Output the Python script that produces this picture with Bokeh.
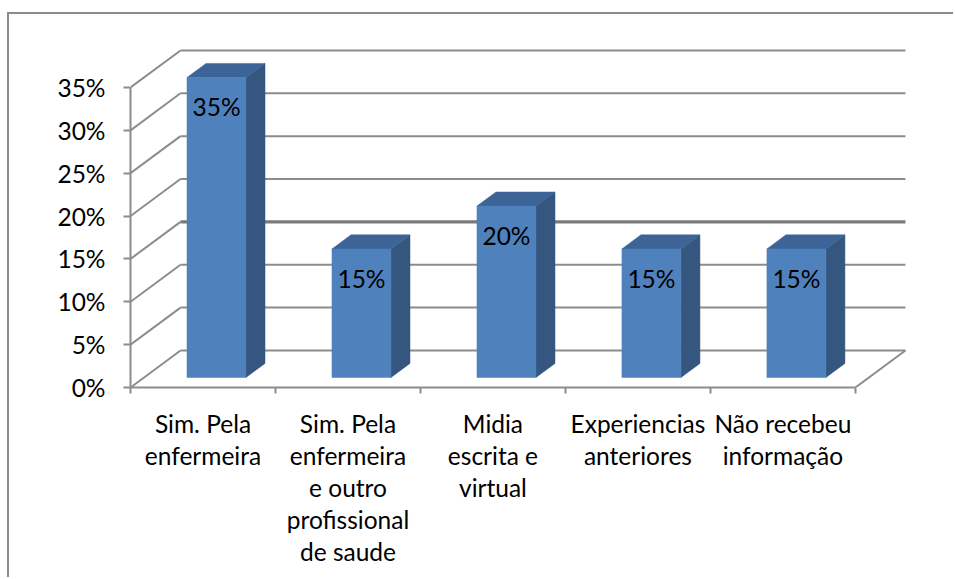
from bokeh.plotting import figure
from bokeh.models import Range1d, FixedTicker, LinearAxis
from bokeh.core.properties import value
from bokeh.embed import file_html
from bokeh.resources import INLINE

# ---- data ----
categories = [
    "Sim. Pela\nenfermeira",
    "Sim. Pela\nenfermeira\ne outro\nprofissional\nde saude",
    "Midia\nescrita e\nvirtual",
    "Experiencias\nanteriores",
    "Não recebeu\ninformação",
]
values = [35, 15, 20, 15, 15]
value_labels = ["35%", "15%", "20%", "15%", "15%"]
y_ticks = [0, 5, 10, 15, 20, 25, 30, 35]
y_tick_labels = ["0%", "5%", "10%", "15%", "20%", "25%", "30%", "35%"]

# ---- 3D geometry (data units) ----
DX = 0.345      # depth offset along x (category units)
DY = 4.32       # depth offset along y (percent units)
FRONT = 0.27    # bar front face position (fraction of depth)
DEPTH = 0.38    # bar depth (fraction of depth)
BW = 0.407      # bar width
FONT = "Lato"
FS = "24.5px"
GRID = "#8C8C8C"

n = len(categories)
centers = [i + 0.5 for i in range(n)]

p = figure(width=946, height=565,
           x_range=Range1d(0, 5.38), y_range=Range1d(0, 40.48),
           x_axis_type=None, y_axis_type=None,
           output_backend="svg", toolbar_location=None,
           min_border_left=121, min_border_right=45,
           min_border_top=26, min_border_bottom=192)
p.outline_line_color = None
p.background_fill_color = "white"
p.border_fill_color = "white"
p.styles = {"margin-left": "7px", "margin-top": "12px",
            "border-left": "2px solid #8C8C8C", "border-top": "2px solid #8C8C8C"}

# back wall gridlines
gx0 = [DX] * len(y_ticks)
gx1 = [n + DX] * len(y_ticks)
gy = [v + DY for v in y_ticks]
gw = [3.2 if v == 15 else 2 for v in y_ticks]
gc = ["#7A7A7A" if v == 15 else GRID for v in y_ticks]
p.segment(x0=gx0, y0=gy, x1=gx1, y1=gy, line_color=gc, line_width=gw)
# side wall diagonals
p.segment(x0=[0] * len(y_ticks), y0=y_ticks, x1=[DX] * len(y_ticks), y1=gy,
          line_color=GRID, line_width=2)
# floor right edge
p.segment(x0=[n], y0=[0], x1=[n + DX], y1=[DY], line_color=GRID, line_width=2)

# bars
fx, fy, sx, sy, tx, ty = [], [], [], [], [], []
for c, v in zip(centers, values):
    xl = c + FRONT * DX - BW / 2
    xr = xl + BW
    yb = FRONT * DY
    yt = v + FRONT * DY
    ddx, ddy = DEPTH * DX, DEPTH * DY
    fx.append([xl, xr, xr, xl]); fy.append([yb, yb, yt, yt])
    sx.append([xr, xr + ddx, xr + ddx, xr]); sy.append([yb, yb + ddy, yt + ddy, yt])
    tx.append([xl, xr, xr + ddx, xl + ddx]); ty.append([yt, yt, yt + ddy, yt + ddy])
p.patches(sx, sy, fill_color="#34567F", line_color="#34567F", line_width=0.5)
p.patches(tx, ty, fill_color="#3C6496", line_color="#3C6496", line_width=0.5)
p.patches(fx, fy, fill_color="#4F81BD", line_color="#4F81BD", line_width=0.5)

# value labels
lx = [c + FRONT * DX for c in centers]
ly = [v + FRONT * DY - 3.4 for v in values]
p.text(x=lx, y=ly, text=value_labels, text_font=value(FONT), text_font_size=FS,
       text_align="center", text_baseline="middle", text_color="black")

# left axis
ya = LinearAxis(ticker=FixedTicker(ticks=y_ticks),
                major_label_overrides={t: l for t, l in zip(y_ticks, y_tick_labels)})
ya.bounds = (0, y_ticks[-1])
ya.axis_line_color = GRID
ya.axis_line_width = 2
ya.major_tick_line_color = GRID
ya.major_tick_line_width = 2
ya.major_tick_out = 7
ya.major_tick_in = 0
ya.minor_tick_line_color = None
ya.major_label_standoff = 18
ya.major_label_text_font = FONT
ya.major_label_text_font_size = FS
ya.major_label_text_color = "black"
p.add_layout(ya, "left")

# bottom axis
xa = LinearAxis(ticker=FixedTicker(ticks=centers, minor_ticks=list(range(n + 1))),
                major_label_overrides={c: l for c, l in zip(centers, categories)})
xa.bounds = (0, n)
xa.axis_line_color = GRID
xa.axis_line_width = 2
xa.major_tick_line_color = None
xa.major_tick_out = 0
xa.major_tick_in = 0
xa.minor_tick_line_color = GRID
xa.minor_tick_line_width = 2
xa.minor_tick_out = 6
xa.minor_tick_in = 0
xa.major_label_standoff = 15
xa.major_label_text_font = FONT
xa.major_label_text_font_size = FS
xa.major_label_text_color = "black"
xa.major_label_text_line_height = 1.107
p.add_layout(xa, "below")

open("out.html", "w").write(file_html(p, INLINE))
